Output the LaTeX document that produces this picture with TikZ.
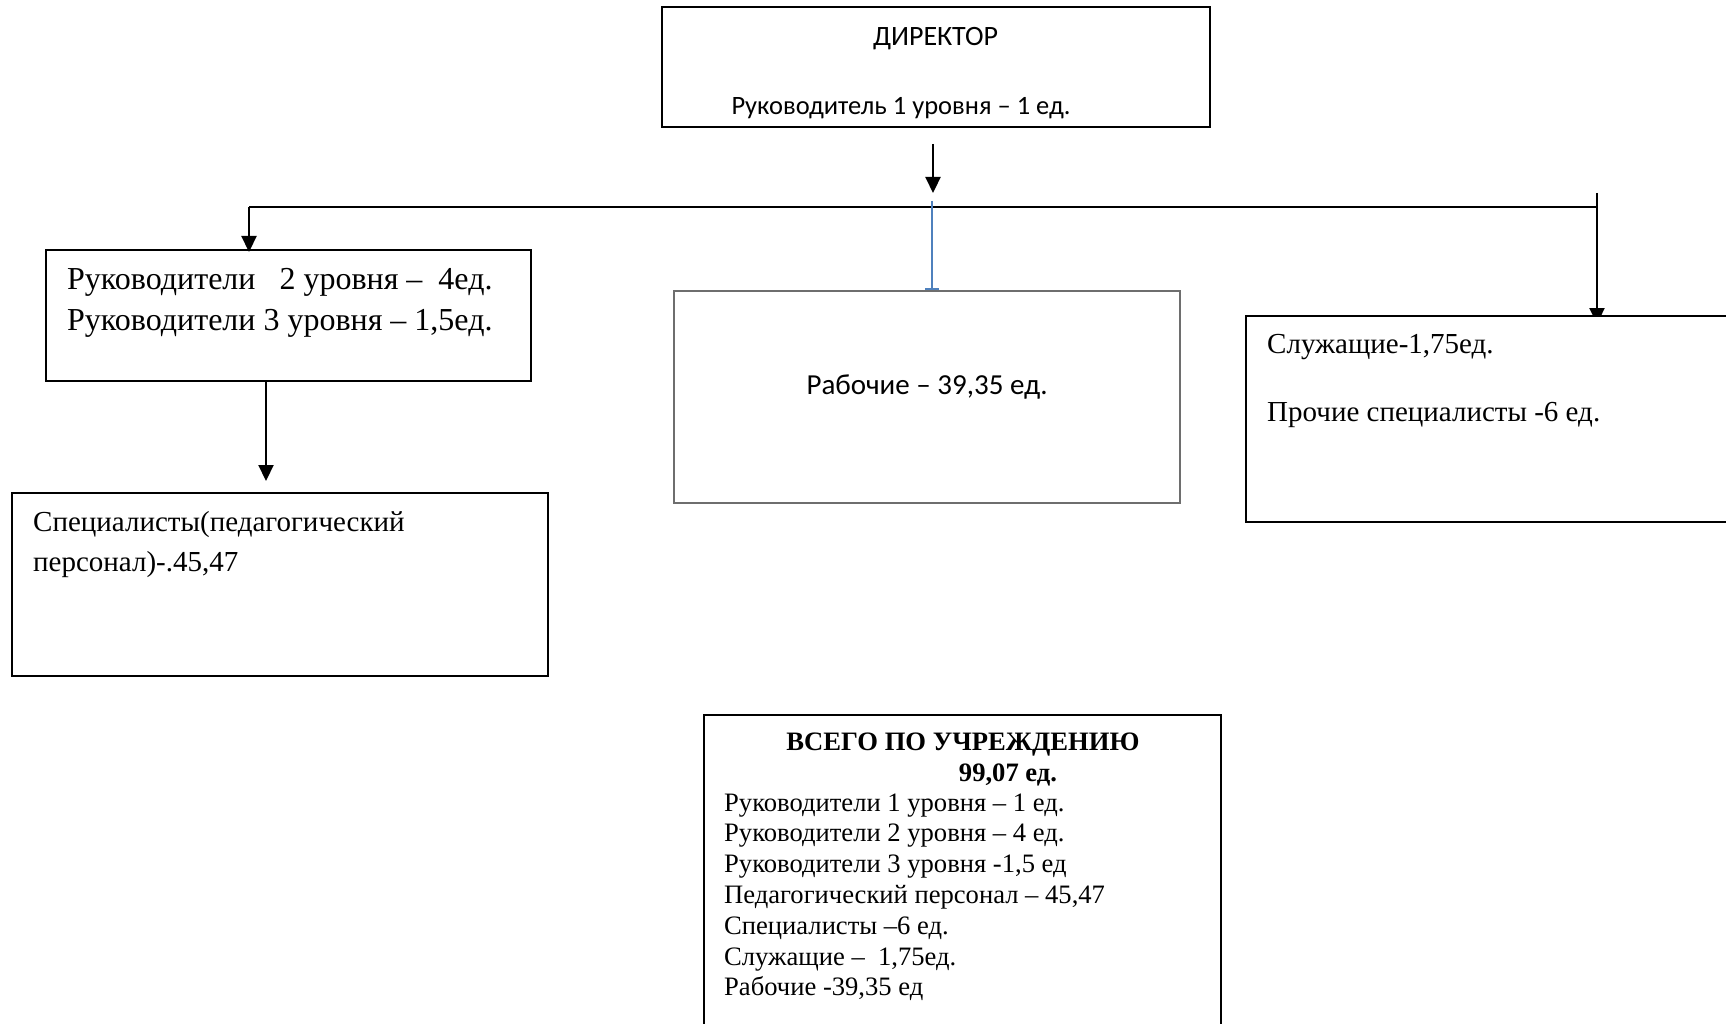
\documentclass[tikz,border=0pt]{standalone}
\usepackage{fontspec}
\setmainfont{Liberation Serif}
\newfontfamily\calib{Carlito}
\usetikzlibrary{arrows.meta,backgrounds}
\definecolor{linkblue}{RGB}{79,129,189}
\definecolor{boxgray}{RGB}{110,110,110}
\tikzset{
  box/.style={draw=black, fill=white, line width=2pt, inner sep=0pt},
  graybox/.style={draw=boxgray, fill=white, line width=1.4pt, inner sep=0pt},
  conn/.style={draw=black, line width=2.2pt},
  arr/.style={conn, -{Triangle[length=16pt,width=15pt]}},
  serifbig/.style={font=\fontsize{29}{40}\selectfont, anchor=base west, inner sep=0pt, align=left},
  serifruk/.style={font=\fontsize{32}{40.5}\selectfont, anchor=base west, inner sep=0pt, align=left},
  seriftot/.style={font=\fontsize{26.6}{30.8}\selectfont, anchor=base west, inner sep=0pt, align=left},
  calibtxt/.style={font=\calib\fontsize{26.5}{29}\selectfont, anchor=base, inner sep=0pt},
}
\begin{document}
\begin{tikzpicture}[x=1pt, y=-1pt]
\useasboundingbox (0,0) rectangle (1726,1024);
% boxes
\node[box, minimum width=548pt, minimum height=120pt] (dir) at (935.5,67.5) {};
\node[box, minimum width=485pt, minimum height=131pt] (ruk) at (288.5,315.5) {};
\node[box, minimum width=536pt, minimum height=183pt] (spec) at (280,584.5) {};
\node[graybox, minimum width=506pt, minimum height=212pt] (rab) at (927,397) {};
\node[box, minimum width=500pt, minimum height=206pt] (sl) at (1496,419) {};
\node[box, minimum width=517pt, minimum height=340pt] (tot) at (962.5,885) {};
% texts
\node[calibtxt, font=\calib\fontsize{28}{30}\selectfont] (t1) at (935.5,46) {ДИРЕКТОР};
\node[calibtxt] (t2) at (901,115) {Руководитель 1 уровня – 1 ед.};
\node[serifruk] (t3) at (67,330.5) {Руководители \ \ 2 уровня – \ 4ед.\\Руководители 3 уровня – 1,5ед.};
\node[serifbig] (t4) at (33,571) {Специалисты(педагогический\\персонал)-.45,47};
\node[calibtxt, font=\calib\fontsize{29}{30}\selectfont] (t5) at (927,394) {Рабочие – 39,35 ед.};
\node[serifbig] (t6) at (1267,353) {Служащие-1,75ед.};
\node[serifbig] (t7) at (1267,421) {Прочие специалисты -6 ед.};
\node[seriftot, font=\fontsize{26.6}{30.8}\selectfont\bfseries, anchor=base] (t8) at (963,750) {ВСЕГО ПО УЧРЕЖДЕНИЮ};
\node[seriftot, font=\fontsize{26.6}{30.8}\selectfont\bfseries, anchor=base] (t9) at (1008,781) {99,07 ед.};
\node[seriftot] (t10) at (724,995.8) {Руководители 1 уровня – 1 ед.\\
Руководители 2 уровня – 4 ед.\\
Руководители 3 уровня -1,5 ед\\
Педагогический персонал – 45,47\\
Специалисты –6 ед.\\
Служащие – \ 1,75ед.\\
Рабочие -39,35 ед};
% connector points
\coordinate (dtop) at (933,144);
\coordinate (dtip) at (933,193);
\coordinate (busL) at (249,207);
\coordinate (busR) at (1597,207);
\coordinate (rtop) at (1597,193);
\coordinate (btop) at (932,201);
\coordinate (stip) at (266,481);
% connectors
\draw[arr] (dtop) -- (dtip);
\draw[conn] (busL) -- (busR);
\draw[arr, shorten >=-3pt] (busL) -- (busL |- ruk.north);
\draw[linkblue, line width=2pt, -{Bar[width=14pt,line width=2pt]}] (btop) -- (btop |- rab.north);
\begin{scope}[on background layer]
\draw[arr, shorten >=-9pt] (rtop) -- (rtop |- sl.north);
\end{scope}
\draw[arr] (stip |- ruk.south) -- (stip);
\end{tikzpicture}
\end{document}
